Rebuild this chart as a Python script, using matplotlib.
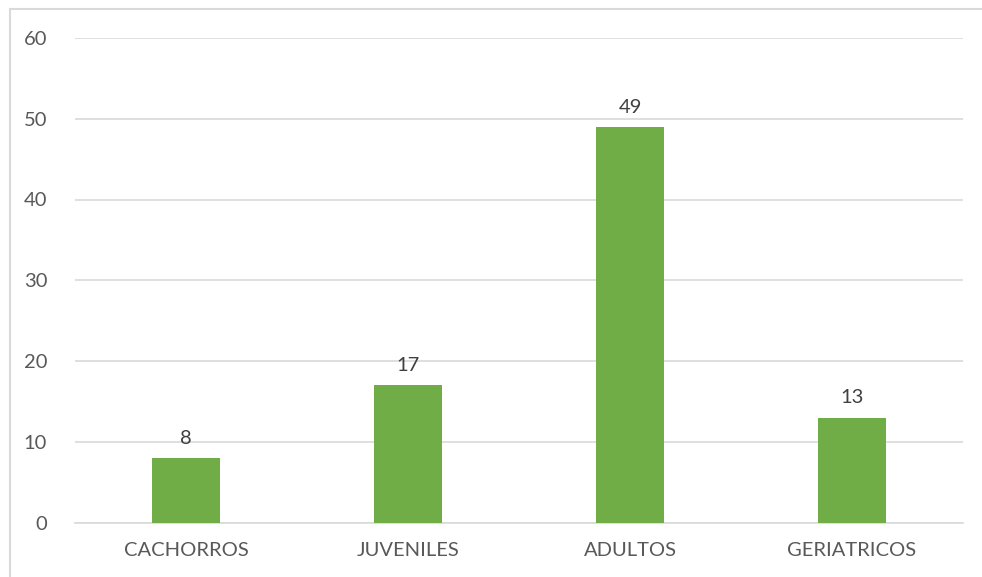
import matplotlib.pyplot as plt
from matplotlib.lines import Line2D

categories = ["CACHORROS", "JUVENILES", "ADULTOS", "GERIATRICOS"]
values = [8, 17, 49, 13]
yticks = [0, 10, 20, 30, 40, 50, 60]

plt.rcParams["font.family"] = ["Lato", "DejaVu Sans"]
TXT = "#595959"

fig = plt.figure(figsize=(9.82, 5.77), dpi=100)
W, H = 982, 577
ax = fig.add_axes([75 / W, 1 - 522.5 / H, 888 / W, (522.5 - 38) / H])

xs = list(range(len(categories)))
ax.bar(xs, values, width=0.31, color="#70AD47", zorder=3)
for x, v in zip(xs, values):
    ax.annotate(str(v), (x, v), xytext=(0, 8), textcoords="offset points",
                ha="center", va="bottom", fontsize=14.5, color="#404040")

ax.set_xlim(-0.5, len(categories) - 0.5)
ax.set_ylim(0, 60)
ax.set_yticks(yticks)
ax.set_xticks(xs)
ax.set_xticklabels(categories)
ax.tick_params(length=0, labelsize=14.5, labelcolor=TXT)
ax.tick_params(axis="y", pad=20)
ax.tick_params(axis="x", pad=14)
ax.yaxis.grid(True, color="#D9D9D9", lw=1.2, zorder=0)
for s in ["top", "right", "left"]:
    ax.spines[s].set_visible(False)
ax.spines["bottom"].set_color("#D9D9D9")
ax.spines["bottom"].set_linewidth(1.2)

# chart frame: only left and top edges are visible
fig.add_artist(Line2D([9.5 / W, 9.5 / W], [0, 1 - 8.5 / H], transform=fig.transFigure,
                      color="#D9D9D9", lw=1.5))
fig.add_artist(Line2D([9.5 / W, 1.05], [1 - 8.5 / H, 1 - 8.5 / H], transform=fig.transFigure,
                      color="#D9D9D9", lw=1.5, solid_capstyle="butt"))

fig.savefig("out.png", dpi=100, facecolor="white", edgecolor="white")
